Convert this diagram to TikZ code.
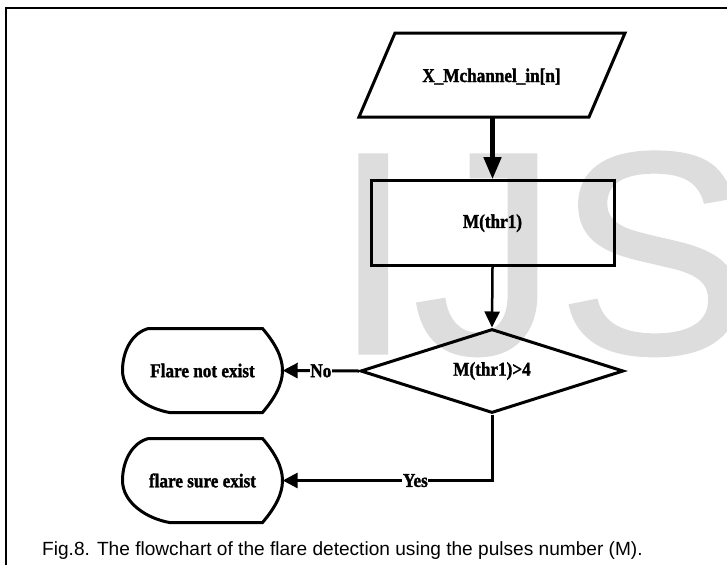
\documentclass[tikz,border=0pt]{standalone}
\usepackage{fontspec}
\setmainfont{Liberation Serif}
\newfontfamily\boxfont{Liberation Serif}[FakeStretch=0.88]
\newfontfamily\capfont{Liberation Sans}
\usetikzlibrary{arrows.meta,shapes.geometric}
\definecolor{wm}{RGB}{221,221,221}
\newcommand\fattxt[2]{\special{pdf:literal direct 2 Tr #1 w}#2\special{pdf:literal direct 0 Tr}}
\begin{document}
\begin{tikzpicture}[x=1pt,y=-1pt,
  shapeline/.style={draw=black,line width=3pt,line join=miter},
  boxtext/.style={font=\boxfont\bfseries\fontsize{19.5}{22}\selectfont,inner sep=0pt},
  lbl/.style={boxtext,fill=white,inner sep=0.6pt,text depth=0pt},
  wmtext/.style={font=\capfont\fontsize{288}{300}\selectfont,text=wm,inner sep=0pt,anchor=base west},
  conn/.style={draw=black,line width=3pt,-{Triangle[length=15pt,width=15pt]}},
]
\useasboundingbox (0,0) rectangle (727,565);
% watermark
\node[wmtext] (wm) at (333,353) {\fattxt{3}{IJS}};
% frame
\draw[line width=2pt] (6,565) -- (6,7.5) -- (728,7.5);
% input parallelogram
\node[boxtext,anchor=base] (in) at (491.5,82) {\fattxt{0.3}{X\_Mchannel\_in[n]}};
\draw[shapeline] (395,33) -- (625,33) -- (589,117) -- (359,117) -- cycle;
\coordinate (inb) at (492.5,117);
% process
\node[shapeline,boxtext,minimum width=243pt,minimum height=85pt] (proc) at (492.5,223.2) {\fattxt{0.3}{M(thr1)}};
% decision
\node[shapeline,boxtext,diamond,aspect=3.13,minimum width=263pt,minimum height=84pt] (dec) at (492,371) {\fattxt{0.3}{M(thr1)>4}};
% terminals
\node[boxtext,minimum width=160pt,minimum height=84pt] (t1) at (202.5,370.5) {\fattxt{0.3}{Flare not exist}};
\node[boxtext,minimum width=160pt,minimum height=84pt] (t2) at (202.5,480.5) {\fattxt{0.3}{flare sure exist}};
\foreach \t in {t1,t2}{
  \draw[shapeline,shift={(\t.center)}] (-54,-42) -- (60,-42)
    .. controls (72,-28) and (80,-14) .. (80,0)
    .. controls (80,14) and (72,28) .. (60,42) -- (-33,42)
    .. controls (-56,38) and (-80,22) .. (-80,0)
    .. controls (-80,-20) and (-70,-38) .. (-54,-42) -- cycle;
}
% connectors
\draw[line width=4.5pt,-{Triangle[length=22pt,width=17pt]}] (inb) -- (proc.north);
\draw[line width=2.5pt,-{Triangle[length=16pt,width=15pt]}] (proc.south) -- (dec.north);
\draw[conn] (dec.west) -- node[lbl,pos=0.5] (no) {\fattxt{0.3}{No}} (t1.east);
\draw[conn] (dec.south) |- node[lbl,pos=0.683] (yes) {\fattxt{0.3}{Yes}} (t2.east);
% caption
\node[font=\capfont\fontsize{19.1}{21}\selectfont,anchor=base west,inner sep=0pt] (cap) at (42,555) {Fig.8. The flowchart of the flare detection using the pulses number (M).};
\end{tikzpicture}
\end{document}
